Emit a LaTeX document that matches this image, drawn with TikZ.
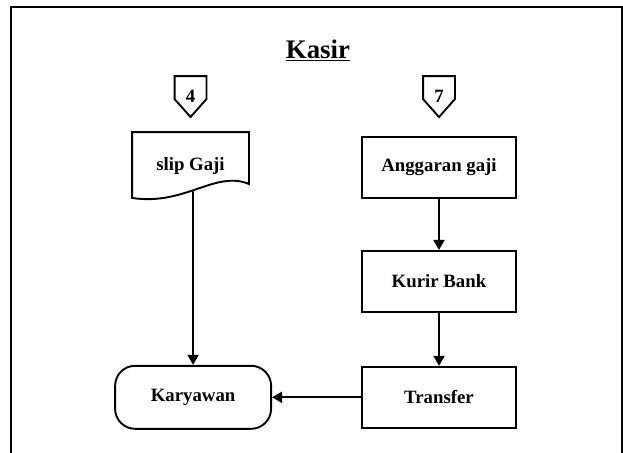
\documentclass[tikz,border=0pt]{standalone}
\usepackage{fontspec}
\setmainfont{Liberation Serif}
\usetikzlibrary{positioning,arrows.meta}
\tikzset{
	>={Triangle[length=10pt,width=11pt]}
}

\begin{document}
\begin{tikzpicture}[
	x = 1pt, y = -1pt,
	line width = 1.9pt,
	every node/.style = {
		font = \bfseries\fontsize{18.8}{21}\selectfont
	},
	process/.style = {
		draw,
		minimum width = 154pt,
		minimum height = 61pt,
	},
	terminal/.style = {
		draw,
		rounded corners = 20pt,
		minimum width = 156pt,
		minimum height = 63pt,
	},
	document/.style = {
		minimum width = 115pt,
		minimum height = 65pt,
	},
	offpage/.style = {
		minimum width = 30pt,
		minimum height = 39pt,
		inner sep = 0pt,
	}
	]
	
	\useasboundingbox (0,0) rectangle (623,452);
	
	% frame
	\draw[line width = 2.2pt] (11,460) -- (11,7) -- (622,7) -- (622,460);
	
	\node[font = \bfseries\fontsize{26.8}{30}\selectfont] (title) at (318,50) {\underline{Kasir}};
	
	\node[process] (anggaran) at (439,167.5) {Anggaran gaji};
	\node[process, below = 51pt of anggaran] (kurir) {Kurir Bank};
	\node[process, below = 53pt of kurir] (transfer) {Transfer};
	\node[terminal, left = 89pt of transfer] (karyawan) {Karyawan};
	\node[document] (slip) at (190.5,165.5) {slip Gaji};
	\node[offpage, above = 19pt of anggaran] (off7) {7};
	\node[offpage, above = 15pt of slip] (off4) {4};
	
	% document outline
	\draw (slip.south west) -- (slip.north west) -- (slip.north east) -- ([yshift=15pt]slip.south east)
		.. controls (215,170) and (185,206) .. ([yshift=1pt]slip.south west) -- cycle;
	
	% off-page connectors
	\foreach \c in {off4, off7} {
		\draw[line join = miter] (\c.north west) -- (\c.north east) -- ([yshift=18pt]\c.south east)
			-- (\c.south) -- ([yshift=18pt]\c.south west) -- cycle;
	}
	
	\draw[->] (anggaran) -- (kurir);
	\draw[->] (kurir) -- (transfer);
	\draw[->] (transfer) -- (karyawan);
	\draw[->] ([yshift=9pt]karyawan.north |- slip.south) -- (karyawan.north);
	
\end{tikzpicture}
\end{document}
